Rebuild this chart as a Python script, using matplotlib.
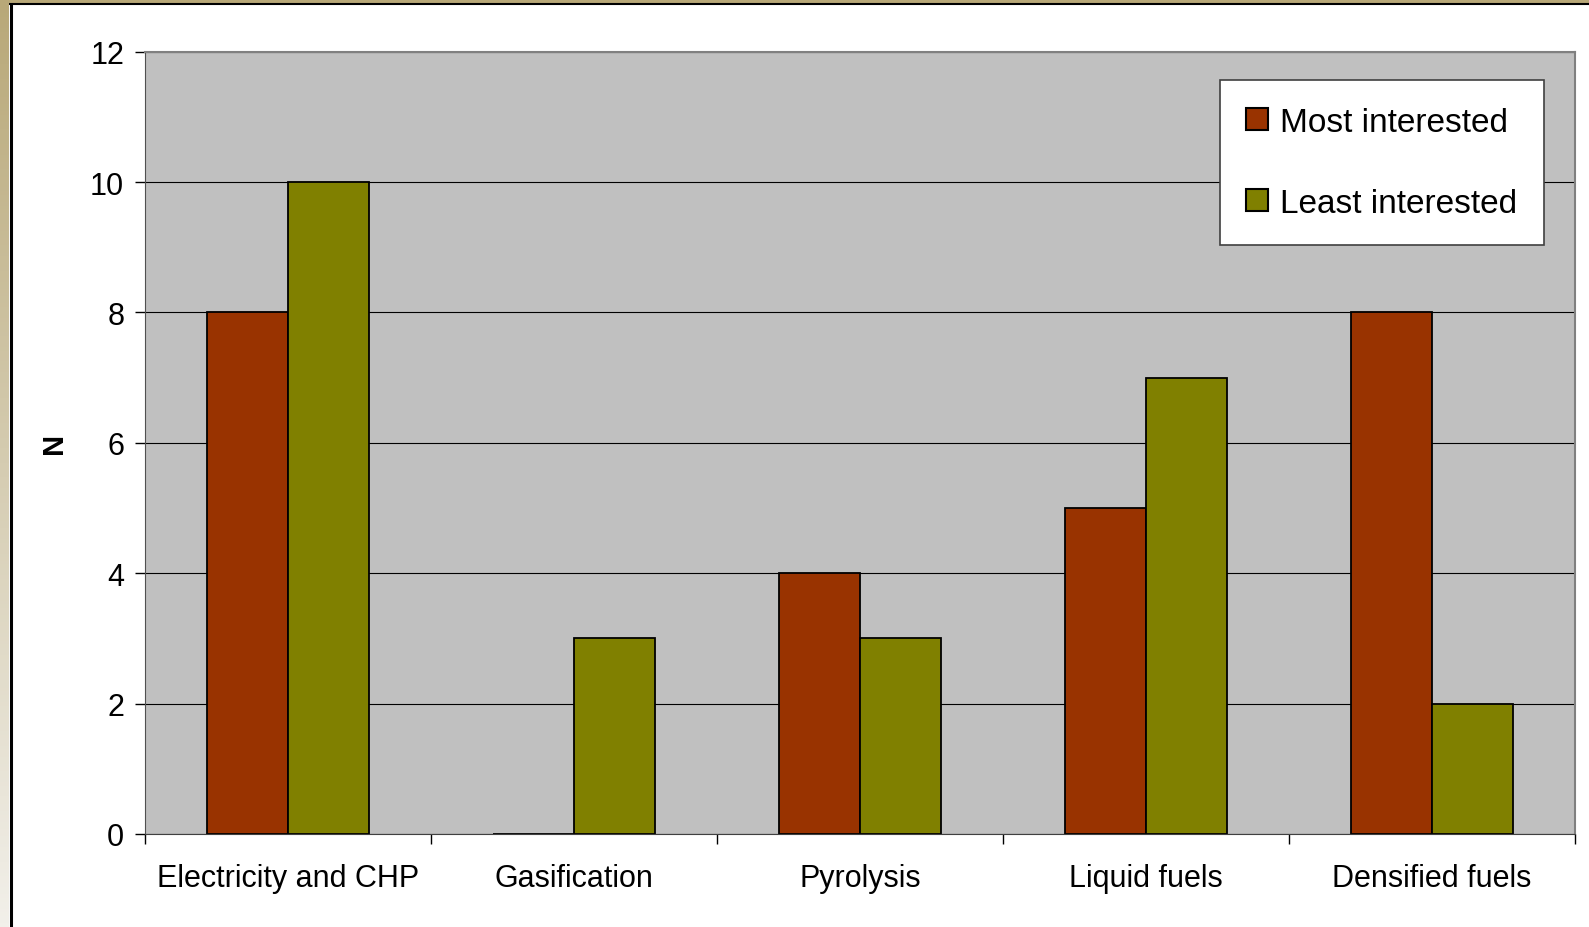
import numpy as np
import matplotlib.pyplot as plt
from matplotlib.patches import Patch

categories = ["Electricity and CHP", "Gasification", "Pyrolysis", "Liquid fuels", "Densified fuels"]
most_interested = [8, 0, 4, 5, 8]
least_interested = [10, 3, 3, 7, 2]
y_ticks = [0, 2, 4, 6, 8, 10, 12]

red = "#993300"
olive = "#808000"

plt.rcParams['font.family'] = ['Liberation Sans', 'DejaVu Sans']

W, H = 1589, 928
fig = plt.figure(figsize=(W / 100, H / 100), dpi=100)
fig.patch.set_facecolor("white")

# frame: tan strip with gradient on the left, black line inside
bg = fig.add_axes([0, 0, 1, 1], zorder=-10)
bg.set_xlim(0, W)
bg.set_ylim(H, 0)
bg.axis("off")
grad = np.linspace(0, 1, 256).reshape(-1, 1)
c_top = np.array([184, 168, 120]) / 255
c_bot = np.array([242, 240, 234]) / 255
img = c_top + (c_bot - c_top) * grad[:, :, None]
bg.imshow(img, extent=[0, 9, H, 0], aspect="auto")
bg.fill_between([0, W], 0, 4, color=c_top)
bg.plot([10.5, 10.5], [4, H], color="black", lw=2.2, solid_capstyle="butt")
bg.plot([9, W], [5, 5], color="black", lw=1.5, solid_capstyle="butt")

L, R, T, B = 145, 1575, 52.7, 835
ax = fig.add_axes([L / W, 1 - B / H, (R - L) / W, (B - T) / H])
ax.set_facecolor("#C0C0C0")

x = np.arange(len(categories))
bw = 81 / 286
ax.bar(x - bw / 2, most_interested, bw, color=red, edgecolor="black", lw=1.3,
       label="Most interested", zorder=2)
ax.bar(x + bw / 2, least_interested, bw, color=olive, edgecolor="black", lw=1.3,
       label="Least interested", zorder=2)

ax.set_xlim(-0.5, len(categories) - 0.5)
ax.set_ylim(0, 12)
ax.set_yticks(y_ticks)
ax.yaxis.grid(True, color="black", lw=0.8)
ax.set_axisbelow(True)

ax.set_xticks(x)
ax.set_xticklabels(categories, fontsize=22)
ax.set_xticks(np.arange(-0.5, len(categories)), minor=True)
ax.tick_params(axis="x", which="major", length=0, pad=21)
ax.tick_params(axis="x", which="minor", length=7, width=1, direction="out")
ax.tick_params(axis="y", length=7, width=1, direction="out", labelsize=22, pad=8)

ax.set_ylabel("N", fontsize=21, fontweight="bold")
ax.yaxis.set_label_coords((68 - L) / (R - L), 0.5)

for s in ["top", "right"]:
    ax.spines[s].set_color("#808080")
    ax.spines[s].set_linewidth(1.5)
ax.spines["left"].set_color("#505050")
ax.spines["bottom"].set_color("#404040")

handles = [Patch(facecolor=red, edgecolor="black", lw=1.5),
           Patch(facecolor=olive, edgecolor="black", lw=1.5)]
leg = ax.legend(handles, ["Most interested", "Least interested"],
                loc="upper right",
                bbox_to_anchor=((1544 - L) / (R - L), 1 - (81 - T) / (B - T)),
                fontsize=24, frameon=True, fancybox=False, edgecolor="#404040",
                facecolor="white", framealpha=1,
                borderpad=0.8, labelspacing=1.5, handlelength=0.66, handleheight=0.66,
                handletextpad=0.36, borderaxespad=0)
leg.get_frame().set_linewidth(1.2)

fig.savefig("out.png", dpi=100)
